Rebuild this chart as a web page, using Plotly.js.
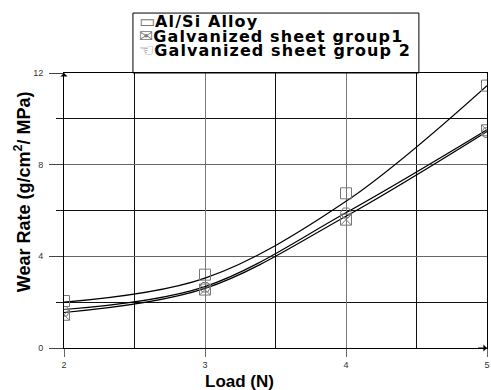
<!DOCTYPE html>
<html>
<head>
<meta charset="utf-8">
<script src="https://cdn.plot.ly/plotly-3.0.1.min.js"></script>
<style>
html,body{margin:0;padding:0;background:#fff;}
#chart{width:491px;height:390px;}
</style>
</head>
<body>
<div id="chart"></div>
<script>
// Load (N)
var loads = [2, 3, 4, 5];
// measured points
var alSi = [2.05, 3.2, 6.75, 11.45];
var group1 = [1.45, 2.55, 5.6, 9.5];
var group2 = [1.6, 2.65, 5.9, 9.4];
// fitted curves
var alSiFit = [2.0, 3.05, 6.4, 11.45];
var group1Fit = [1.55, 2.6, 5.75, 9.45];
var group2Fit = [1.68, 2.68, 5.9, 9.52];
var names = ['Al/Si Alloy', 'Galvanized sheet group1', 'Galvanized sheet group 2'];
var legendGlyphs = ['\u25AD', '\u2709', '\u261C'];
var yTicks = [0, 4, 8, 12];
var xTicks = [2, 3, 4, 5];

var lineStyle = {color: '#000', width: 1.2, shape: 'spline', smoothing: 1};
function fitTrace(y) {
  return {x: loads, y: y, mode: 'lines', line: lineStyle, showlegend: false, hoverinfo: 'skip'};
}
function markTrace(y, name, sym) {
  return {x: loads, y: y, mode: 'markers', name: name, showlegend: false,
    marker: {symbol: sym, size: 11, color: '#777', line: {color: '#777', width: 1}}};
}
var data = [
  fitTrace(alSiFit), fitTrace(group1Fit), fitTrace(group2Fit),
  markTrace(alSi, names[0], 'square-open'),
  markTrace(group1, names[1], 'square-x-open'),
  markTrace(group2, names[2], 'hexagon2-open')
];

var FF = 'Liberation Sans, Arial, sans-serif';
var tickFont = {family: FF, size: 9, color: '#333'};

// manual legend: box + a single multi-line annotation (glyph + name per line)
var legendLines = names.map(function (n, i) {
  return '<span style="color:#777;font-size:17px">' + legendGlyphs[i] + '</span>' +
         '<span style="font-size:16px;letter-spacing:1.1px;font-weight:bold">' + n + '</span>';
});
var annotations = [
  {xref: 'paper', yref: 'paper', x: 0.175, y: 1.136, xanchor: 'left', yanchor: 'middle', align: 'left',
   text: legendLines.join('<br>'), showarrow: false, borderpad: 0,
   font: {family: 'DejaVu Sans, sans-serif', size: 11.3, color: '#000'}},
  {xref: 'paper', yref: 'paper', x: 0.414, y: -0.12, xanchor: 'center', yanchor: 'middle',
   text: '<b>Load (N)</b>', showarrow: false, borderpad: 0, font: {family: FF, size: 17, color: '#000'}},
  {xref: 'paper', yref: 'paper', x: -0.099, y: 0.567, xanchor: 'center', yanchor: 'middle',
   textangle: -90, text: '<b>Wear Rate (g/cm<sup>2</sup>/ MPa)</b>', showarrow: false,
   font: {family: FF, size: 18, color: '#000'}},
  {xref: 'x', yref: 'y', x: 2, y: 12, ax: 0, ay: 12, text: ' ', showarrow: true,
   arrowhead: 1, arrowsize: 1, arrowwidth: 1.2, arrowcolor: '#000', standoff: 0},
  {xref: 'x', yref: 'y', x: 5, y: 0, ax: -12, ay: 0, text: ' ', showarrow: true,
   arrowhead: 1, arrowsize: 1, arrowwidth: 1.2, arrowcolor: '#000', standoff: 0}
];

var layout = {
  width: 491, height: 390,
  margin: {l: 64, r: 4, t: 73, b: 42},
  paper_bgcolor: '#fff', plot_bgcolor: '#fff',
  showlegend: false,
  xaxis: {
    range: [2, 5], tickvals: xTicks, ticktext: xTicks.map(String),
    ticks: 'outside', ticklen: 8, tickcolor: '#666', tickwidth: 1,
    showgrid: true, gridcolor: '#777', gridwidth: 1,
    minor: {dtick: 0.5, showgrid: true, gridcolor: '#111', gridwidth: 1, ticks: ''},
    showline: true, mirror: true, linecolor: '#000', linewidth: 1,
    zeroline: false, tickfont: tickFont
  },
  yaxis: {
    range: [0, 12], tickvals: yTicks, ticktext: yTicks.map(String),
    ticks: 'outside', ticklen: 14, tickcolor: '#444', tickwidth: 1,
    showgrid: true, gridcolor: '#666', gridwidth: 1,
    minor: {dtick: 2, showgrid: true, gridcolor: '#111', gridwidth: 1, ticks: 'outside', ticklen: 7, tickcolor: '#111'},
    showline: true, mirror: true, linecolor: '#000', linewidth: 1,
    zeroline: false, tickfont: tickFont, ticklabelstandoff: 4
  },
  shapes: [
    {type: 'rect', xref: 'paper', yref: 'paper', x0: 0.163, x1: 0.839, y0: 1, y1: 1.218,
     line: {color: '#000', width: 1}, fillcolor: 'rgba(0,0,0,0)', layer: 'above'}
  ],
  annotations: annotations
};
Plotly.newPlot('chart', data, layout, {displayModeBar: false, staticPlot: true});
</script>
</body>
</html>
